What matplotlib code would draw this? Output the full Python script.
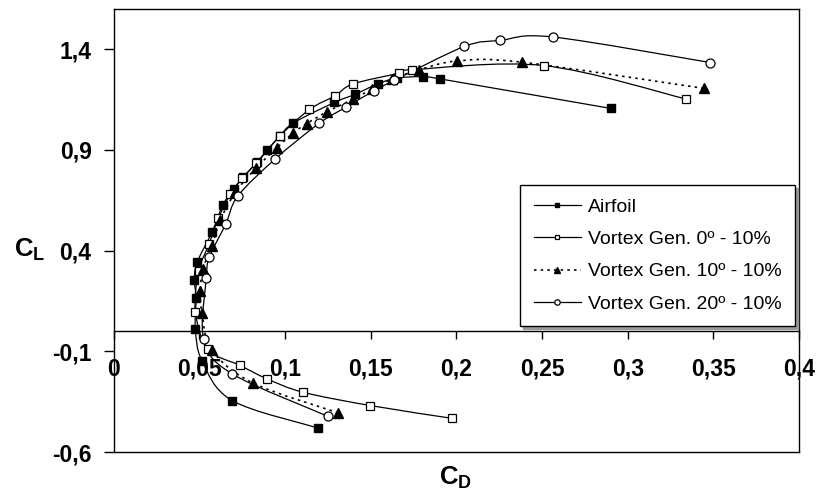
import numpy as np
import matplotlib
matplotlib.use("Agg")
import matplotlib.pyplot as plt
from matplotlib.ticker import FuncFormatter
from matplotlib.path import Path
from matplotlib.patches import PathPatch

plt.rcParams['font.family'] = ['Liberation Sans', 'DejaVu Sans']
plt.rcParams['mathtext.fontset'] = 'custom'
plt.rcParams['mathtext.bf'] = 'Liberation Sans:bold'
plt.rcParams['mathtext.rm'] = 'Liberation Sans'

# --- données ---
airfoil_cd = [0.119, 0.069, 0.0515, 0.0476, 0.048, 0.047, 0.0486, 0.0573, 0.0638, 0.070,
              0.0756, 0.0836, 0.0897, 0.0968, 0.1048, 0.1288, 0.141, 0.154, 0.1652, 0.1806,
              0.1907, 0.2903]
airfoil_cl = [-0.48, -0.344, -0.147, 0.012, 0.167, 0.256, 0.342, 0.4925, 0.629, 0.707,
              0.766, 0.838, 0.899, 0.9675, 1.034, 1.136, 1.177, 1.228, 1.257, 1.264,
              1.2525, 1.106]

vg0_cd = [0.1975, 0.1498, 0.1103, 0.0894, 0.0735, 0.055, 0.0476, 0.0495, 0.0556, 0.061,
          0.068, 0.075, 0.083, 0.097, 0.1142, 0.1293, 0.1395, 0.1663, 0.1741, 0.251, 0.3343]
vg0_cl = [-0.4325, -0.369, -0.3025, -0.236, -0.169, -0.09, 0.0975, 0.2975, 0.434, 0.56,
          0.68, 0.76, 0.834, 0.97, 1.101, 1.17, 1.2275, 1.281, 1.2985, 1.319, 1.1525]

vg10_cd = [0.131, 0.0813, 0.0573, 0.0515, 0.0505, 0.052, 0.0573, 0.0622, 0.071, 0.083,
           0.0951, 0.1045, 0.1126, 0.1245, 0.1395, 0.1508, 0.1624, 0.178, 0.2005, 0.238, 0.3444]
vg10_cl = [-0.405, -0.2575, -0.094, 0.089, 0.2, 0.31, 0.4225, 0.552, 0.69, 0.81,
           0.91, 0.983, 1.031, 1.09, 1.151, 1.203, 1.252, 1.2975, 1.342, 1.336, 1.206]

vg20_cd = [0.125, 0.069, 0.0525, 0.054, 0.0558, 0.0654, 0.0725, 0.0943, 0.1198, 0.1354,
           0.1517, 0.1635, 0.2047, 0.2257, 0.2562, 0.3483]
vg20_cl = [-0.4225, -0.211, -0.04, 0.264, 0.368, 0.534, 0.6725, 0.856, 1.032, 1.112,
           1.193, 1.245, 1.414, 1.444, 1.461, 1.334]

labels = ['Airfoil', 'Vortex Gen. 0º - 10%', 'Vortex Gen. 10º - 10%', 'Vortex Gen. 20º - 10%']
x_ticks = [0, 0.05, 0.1, 0.15, 0.2, 0.25, 0.3, 0.35, 0.4]
y_ticks = [-0.6, -0.1, 0.4, 0.9, 1.4]


def virgule(v, pos):
    s = f"{v:.2f}".rstrip('0').rstrip('.')
    return s.replace('.', ',')


def courbe_lisse(x, y):
    # lissage type Excel : segments de Bezier (Catmull-Rom) passant par les points
    p = np.column_stack([x, y])
    verts = [p[0]]
    codes = [Path.MOVETO]
    n = len(p)
    for i in range(n - 1):
        p0 = p[i - 1] if i > 0 else p[i]
        p3 = p[i + 2] if i + 2 < n else p[i + 1]
        c1 = p[i] + (p[i + 1] - p0) / 6
        c2 = p[i + 1] - (p3 - p[i]) / 6
        verts += [c1, c2, p[i + 1]]
        codes += [Path.CURVE4] * 3
    return Path(verts, codes)


fig = plt.figure(figsize=(8.19, 4.99), dpi=100)
ax = fig.add_axes([0.139, 0.094, 0.8366, 0.888])

series = [
    (airfoil_cd, airfoil_cl, dict(marker='s', ms=6, mfc='k', mec='k'), '-', 0.9),
    (vg0_cd, vg0_cl, dict(marker='s', ms=6, mfc='white', mec='k', mew=0.9), '-', 0.9),
    (vg10_cd, vg10_cl, dict(marker='^', ms=6.5, mfc='k', mec='k'), (0, (1.5, 2.5)), 1.2),
    (vg20_cd, vg20_cl, dict(marker='o', ms=6.5, mfc='white', mec='k', mew=0.9), '-', 0.9),
]

handles = []
for (x, y, mk, ls, lw), lab in zip(series, labels):
    ax.add_patch(PathPatch(courbe_lisse(x, y), fill=False, edgecolor='k', lw=lw,
                           linestyle=ls, transform=ax.transData))
    ax.plot(x, y, ls='none', **mk)
    h, = ax.plot([], [], color='k', lw=lw, ls=ls, **mk)
    handles.append(h)

ax.set_xlim(0, 0.4)
ax.set_ylim(-0.6, 1.6)
ax.set_xticks(x_ticks)
ax.set_yticks(y_ticks)
ax.xaxis.set_major_formatter(FuncFormatter(virgule))
ax.yaxis.set_major_formatter(FuncFormatter(virgule))

# axe des x sur la ligne CL = 0, cadre conservé
ax.spines['bottom'].set_position(('data', 0))
ax.axhline(-0.6, color='k', lw=1.0, clip_on=False)
for s in ax.spines.values():
    s.set_linewidth(1.0)
ax.tick_params(axis='x', direction='out', length=6, width=1, pad=13, labelsize=16.5)
ax.tick_params(axis='y', direction='out', length=7, width=1, pad=9, labelsize=16.5)
for lab in ax.get_xticklabels() + ax.get_yticklabels():
    lab.set_fontweight('bold')

fig.text(0.036, 0.50, r'$\mathbf{C_L}$', fontsize=18.5, ha='center', va='center')
fig.text(0.556, 0.042, r'$\mathbf{C_D}$', fontsize=18.5, ha='center', va='center')

leg = ax.legend(handles, labels, loc='lower right', bbox_to_anchor=(0.994, 0.284),
                borderaxespad=0, fontsize=14, frameon=True, fancybox=False,
                shadow={'color': '0.6', 'alpha': 1}, handlelength=2.4,
                labelspacing=0.75, borderpad=0.7, handletextpad=0.35, markerscale=0.6)
leg.get_frame().set_edgecolor('k')
leg.get_frame().set_linewidth(1.0)
leg.get_frame().set_alpha(1)

fig.savefig('out.png', dpi=100)
